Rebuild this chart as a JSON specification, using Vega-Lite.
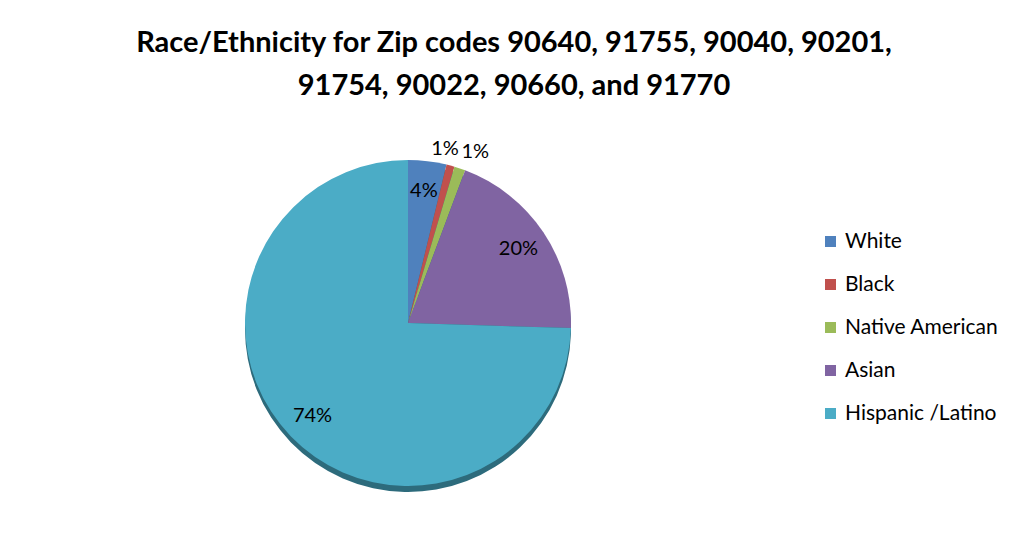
{
  "$schema": "https://vega.github.io/schema/vega-lite/v6.json",
  "width": 816,
  "height": 400,
  "autosize": {"type": "none"},
  "padding": {"left": 0, "top": 123, "right": 200, "bottom": 25},
  "background": "white",
  "config": {"view": {"stroke": null}},
  "title": {
    "text": ["Race/Ethnicity for Zip codes 90640, 91755, 90040, 90201,", "91754, 90022, 90660, and 91770"],
    "font": "Lato",
    "fontSize": 29,
    "fontWeight": "bold",
    "lineHeight": 43,
    "color": "#000000",
    "anchor": "middle",
    "dx": 106,
    "offset": 22
  },
  "data": {
    "values": [
      {"race": "White", "value": 3.8, "label": "4%", "order": 1},
      {"race": "Black", "value": 0.8, "label": "1%", "order": 2},
      {"race": "Native American", "value": 1.1, "label": "1%", "order": 3},
      {"race": "Asian", "value": 19.8, "label": "20%", "order": 4},
      {"race": "Hispanic /Latino", "value": 74.5, "label": "74%", "order": 5}
    ]
  },
  "encoding": {
    "theta": {"field": "value", "type": "quantitative", "stack": true},
    "order": {"field": "order", "type": "quantitative"}
  },
  "layer": [
    {
      "mark": {"type": "arc", "outerRadius": 163, "yOffset": 6, "color": "#2D6B7C"}
    },
    {
      "mark": {"type": "arc", "outerRadius": 163},
      "encoding": {
        "color": {
          "field": "race",
          "type": "nominal",
          "scale": {
            "domain": ["White", "Black", "Native American", "Asian", "Hispanic /Latino"],
            "range": ["#4F81BD", "#C0504D", "#9BBB59", "#8064A2", "#4BACC6"]
          },
          "legend": {
            "title": null,
            "orient": "none",
            "legendX": 820,
            "legendY": 108,
            "symbolType": "square",
            "symbolSize": 121,
            "symbolStrokeWidth": 0,
            "symbolOpacity": 1,
            "labelFont": "Lato",
            "labelFontSize": 21,
            "labelColor": "#000000",
            "labelOffset": 4,
            "labelLimit": 300,
            "rowPadding": 21
          }
        }
      }
    },
    {
      "mark": {"type": "text", "radius": 133, "font": "Lato", "fontSize": 20, "color": "#000000"},
      "encoding": {
        "text": {"condition": {"test": "datum.value >= 3", "field": "label"}, "value": ""}
      }
    },
    {
      "mark": {"type": "text", "radius": 180, "dx": -10, "font": "Lato", "fontSize": 20, "color": "#000000"},
      "encoding": {
        "text": {"condition": {"test": "datum.race === 'Black'", "field": "label"}, "value": ""}
      }
    },
    {
      "mark": {"type": "text", "radius": 180, "dx": 10, "font": "Lato", "fontSize": 20, "color": "#000000"},
      "encoding": {
        "text": {"condition": {"test": "datum.race === 'Native American'", "field": "label"}, "value": ""}
      }
    }
  ]
}
